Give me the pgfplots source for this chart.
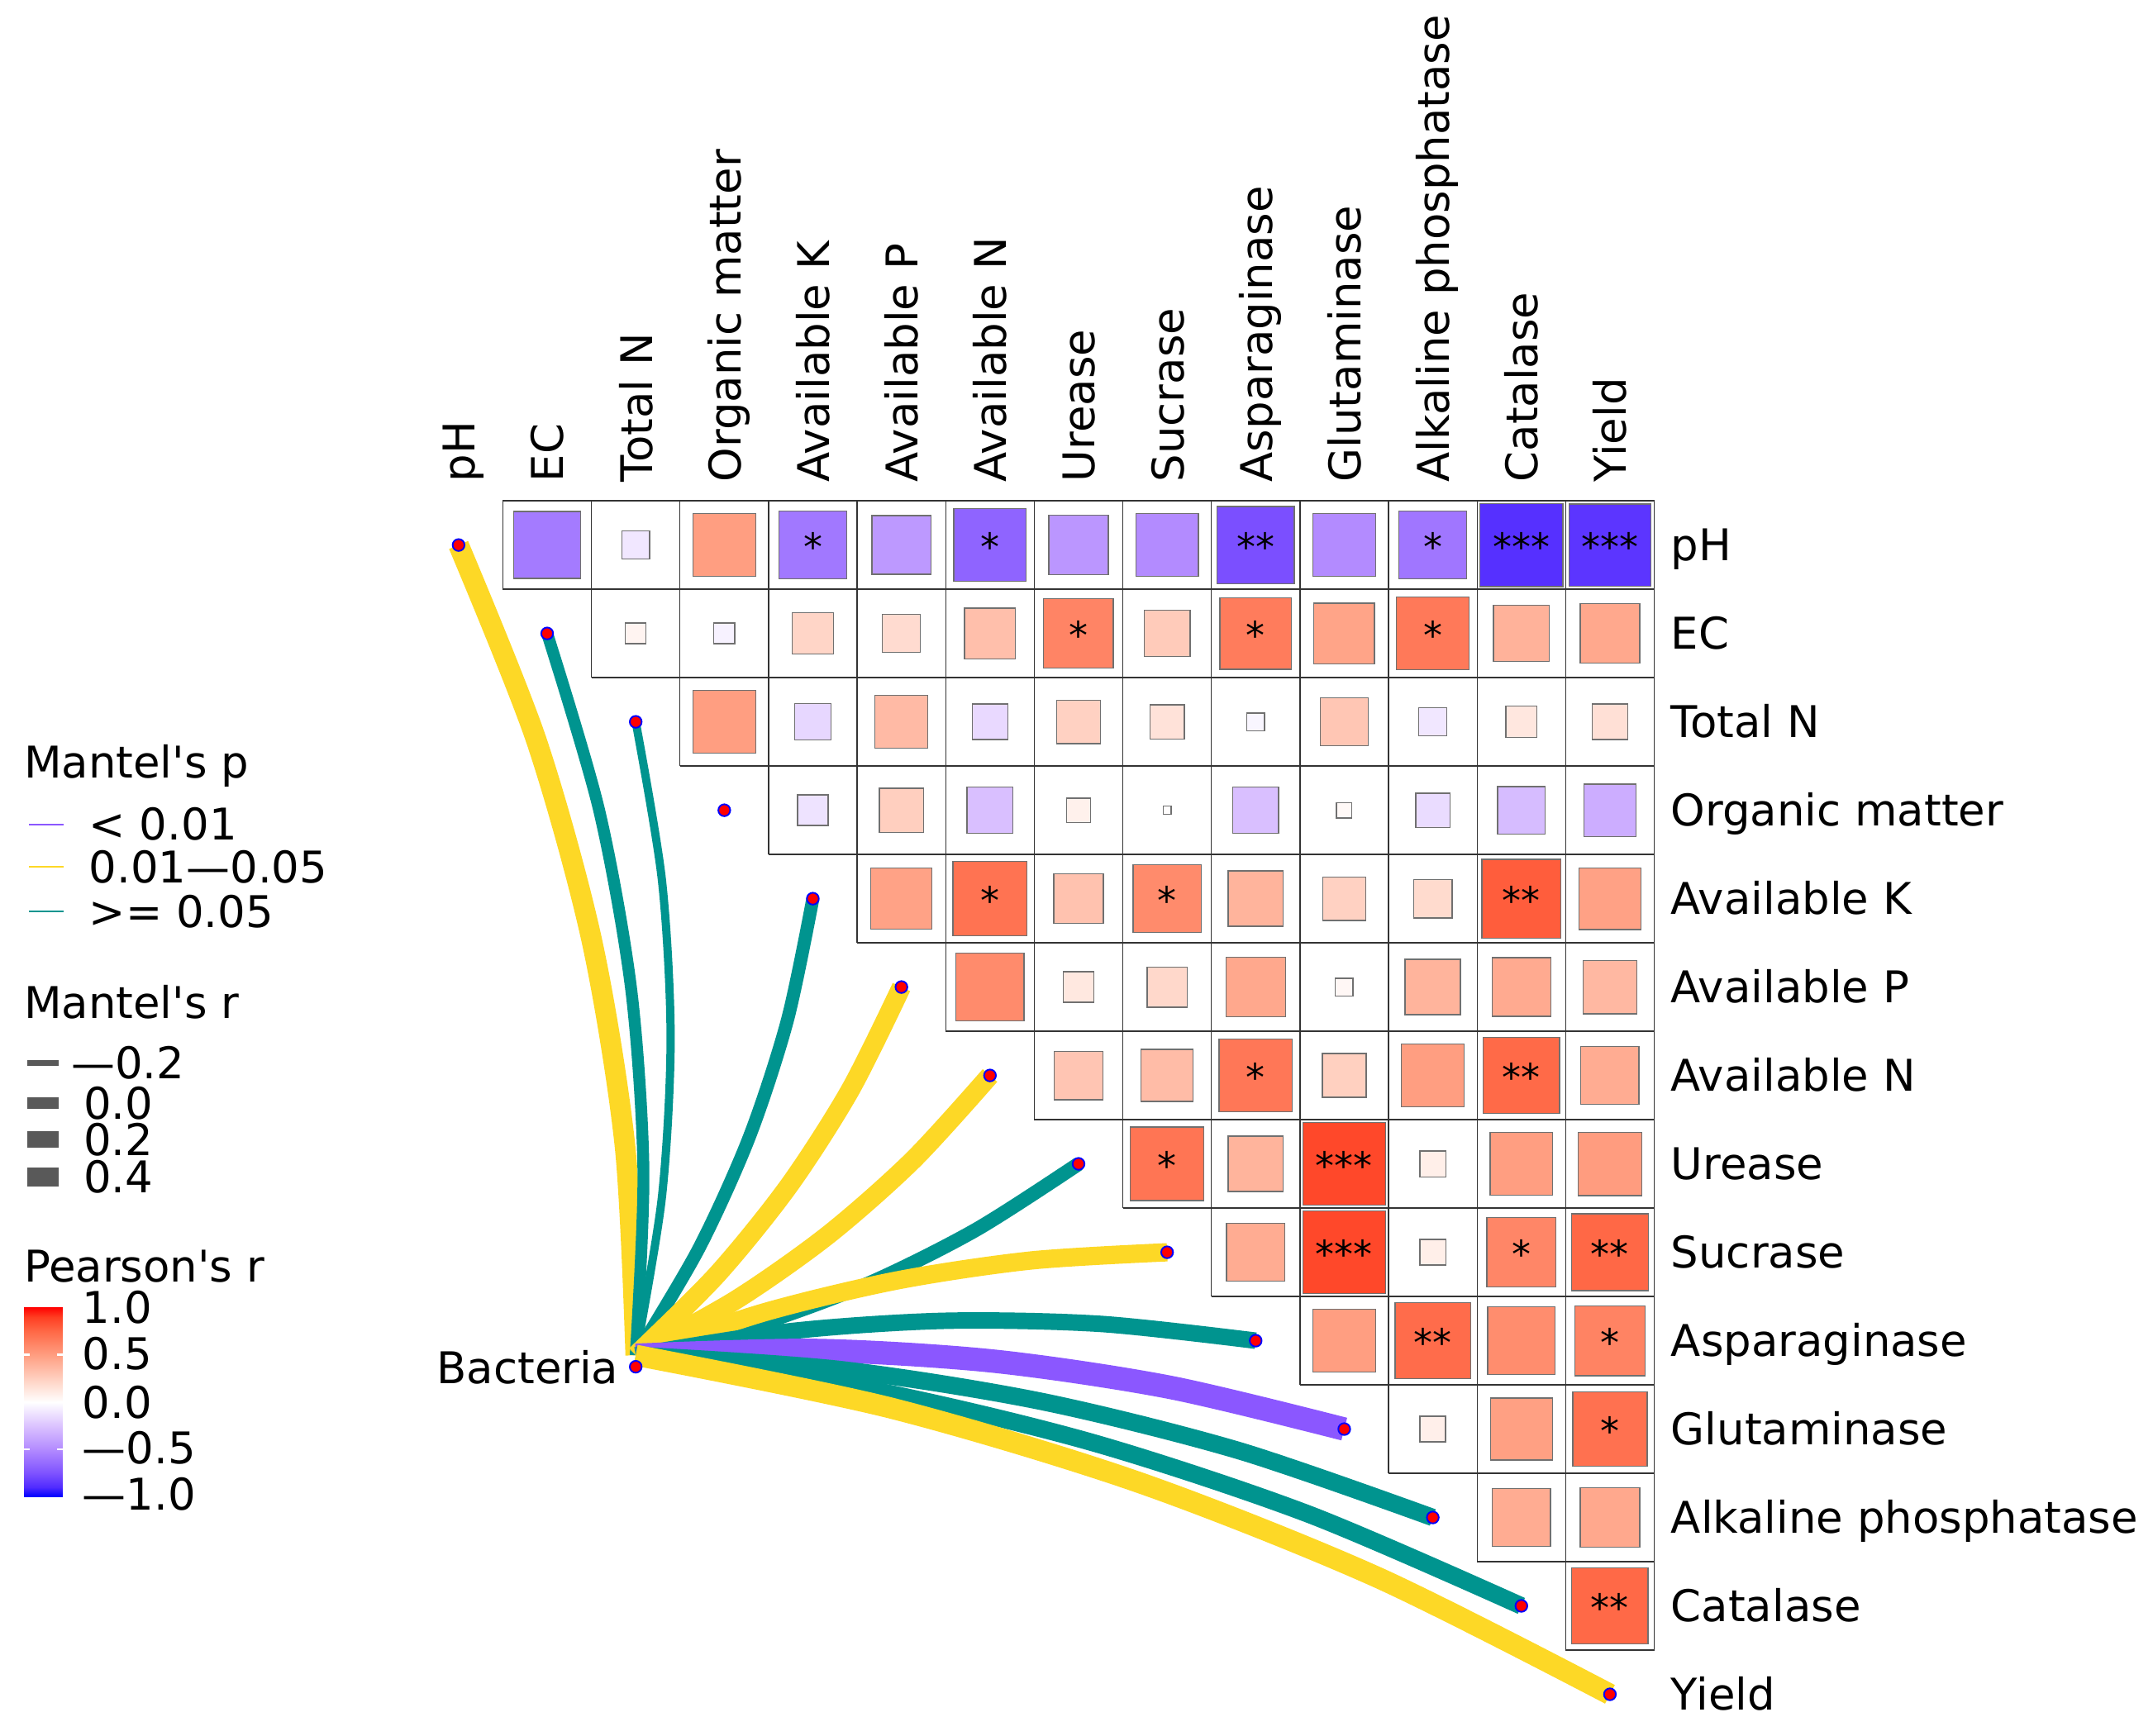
\documentclass[border=0pt]{standalone}
\usepackage{fontspec}
\setmainfont{DejaVu Sans}[Ligatures=TeXOff]
\usepackage{pgfplots}
\pgfplotsset{compat=1.18}
\usepackage{pgfplotstable}

\definecolor{pyel}{HTML}{FDD826}
\definecolor{pteal}{HTML}{00948F}
\definecolor{ppur}{HTML}{8B57FF}
\definecolor{sqedge}{HTML}{707070}
\definecolor{gridc}{HTML}{333333}
\definecolor{keygray}{HTML}{595959}

% Pearson's r, one row per drawn cell (col x, row y)
\pgfplotstableread{
x y r
1 0 -0.57
2 0 -0.10
3 0 0.50
4 0 -0.585
5 0 -0.44
6 0 -0.67
7 0 -0.45
8 0 -0.50
9 0 -0.76
10 0 -0.50
11 0 -0.59
12 0 -0.88
13 0 -0.86
2 1 0.055
3 1 -0.055
4 1 0.22
5 1 0.185
6 1 0.33
7 1 0.62
8 1 0.27
9 1 0.656
10 1 0.47
11 1 0.67
12 1 0.40
13 1 0.45
3 2 0.50
4 2 -0.17
5 2 0.355
6 2 -0.16
7 2 0.24
8 2 0.15
9 2 -0.04
10 2 0.295
11 2 -0.10
12 2 0.125
13 2 0.16
4 3 -0.12
5 3 0.25
6 3 -0.27
7 3 0.075
8 3 0.008
9 3 -0.27
10 3 0.03
11 3 -0.15
12 3 -0.285
13 3 -0.35
5 4 0.48
6 4 0.70
7 4 0.315
8 4 0.59
9 4 0.39
10 4 0.24
11 4 0.19
12 4 0.79
13 4 0.485
6 5 0.59
7 5 0.12
8 5 0.205
9 5 0.45
10 5 0.04
11 5 0.39
12 5 0.44
13 5 0.365
7 6 0.30
8 6 0.345
9 6 0.68
10 6 0.245
11 6 0.50
12 6 0.74
13 6 0.43
8 7 0.69
9 7 0.39
10 7 0.865
11 7 0.085
12 7 0.50
13 7 0.51
9 8 0.43
10 8 0.865
11 8 0.085
12 8 0.61
13 8 0.75
10 9 0.50
11 9 0.73
12 9 0.58
13 9 0.625
11 10 0.083
12 10 0.49
13 10 0.707
12 11 0.43
13 11 0.45
13 12 0.745
}\cells

% significance marks
\pgfplotstableread{
x y s
4 0 *
6 0 *
9 0 **
11 0 *
12 0 ***
13 0 ***
7 1 *
9 1 *
11 1 *
6 4 *
8 4 *
12 4 **
9 6 *
12 6 **
8 7 *
10 7 ***
10 8 ***
12 8 *
13 8 **
11 9 **
13 9 *
13 10 *
13 12 **
}\stars

\begin{document}
\begin{tikzpicture}[
  lab/.style={font=\fontsize{9.55}{11}\selectfont, inner sep=0pt, outer sep=0pt},
]
\begin{axis}[
  x=19.35pt, y=19.32pt, y dir=reverse,
  xmin=-5.178, xmax=19.132, ymin=-6.165, ymax=13.463,
  hide axis, clip=false,
  colormap={pearson}{
    rgb255(0pt)=(0,0,255);
    rgb255(10pt)=(80,43,255);
    rgb255(25pt)=(126,82,255);
    rgb255(50pt)=(179,139,255);
    rgb255(75pt)=(220,196,255);
    rgb255(100pt)=(255,255,255);
    rgb255(125pt)=(255,207,191);
    rgb255(150pt)=(255,158,129);
    rgb255(175pt)=(255,104,70);
    rgb255(190pt)=(255,62,34);
    rgb255(200pt)=(255,0,0)
  },
  point meta min=-1, point meta max=1,
]

% grid of the upper triangle
\pgfplotsinvokeforeach{0,...,13}{
  \draw[gridc, line width=0.25pt] (axis cs:{max(#1-0.5,0.5)},{#1-0.5}) -- (axis cs:13.5,{#1-0.5});
}
\pgfplotsinvokeforeach{1,...,13}{
  \draw[gridc, line width=0.25pt] (axis cs:{#1-0.5},-0.5) -- (axis cs:{#1-0.5},{#1-0.5});
}
\draw[gridc, line width=0.25pt] (axis cs:13.5,-0.5) -- (axis cs:13.5,12.5);

% squares: side ~ sqrt(|r|)
\addplot[scatter, only marks, mark=square*, point meta=explicit,
  scatter/use mapped color={draw=sqedge, fill=mapped color},
  visualization depends on={\thisrow{r} \as \rval},
  scatter/@pre marker code/.append style={/tikz/mark size={sqrt(abs(\rval))*9.675pt}},
  mark options={line width=0.25pt}]
  table[x=x, y=y, meta=r] {\cells};

% stars
\addplot[scatter, only marks, mark=*, mark size=0pt,
  mark options={draw=none, fill=none},
  point meta=explicit symbolic,
  scatter/@pre marker code/.code={\node[inner sep=0pt, anchor=base, text=black, opacity=1, text opacity=1, font=\fontsize{8.3}{10}\selectfont] at (0pt,-3.4pt) {\pgfplotspointmeta};},
  scatter/@post marker code/.code={}]
  table[x=x, y=y, meta=s] {\stars};

% Mantel links from Bacteria
\addplot[pyel, line width=4.5pt, smooth] coordinates {(2.0,9.165) (1.878,6.791) (1.504,4.473) (0.878,2.209) (0,0)};
\addplot[pteal, line width=2.6pt, smooth] coordinates {(2.0,9.165) (2.087,7.083) (1.949,5.028) (1.587,3.000) (1,1)};
\addplot[pteal, line width=1.8pt, smooth] coordinates {(2.0,9.165) (2.296,7.374) (2.394,5.583) (2.296,3.791) (2,2)};
\addplot[pteal, line width=2.85pt, smooth] coordinates {(2.0,9.165) (2.713,7.957) (3.284,6.693) (3.713,5.374) (4,4)};
\addplot[pyel, line width=4.2pt, smooth] coordinates {(2.0,9.165) (2.922,8.248) (3.729,7.248) (4.422,6.165) (5,5)};
\addplot[pyel, line width=4.2pt, smooth] coordinates {(2.0,9.165) (3.131,8.539) (4.174,7.803) (5.131,6.956) (6,6)};
\addplot[pteal, line width=3.1pt, smooth] coordinates {(2.0,9.165) (3.339,8.830) (4.619,8.358) (5.839,7.747) (7,7)};
\addplot[pyel, line width=4.0pt, smooth] coordinates {(2.0,9.165) (3.462,8.676) (4.949,8.319) (6.462,8.093) (8,8)};
\addplot[pteal, line width=3.6pt, smooth] coordinates {(2.0,9.165) (3.745,8.893) (5.493,8.775) (7.245,8.810) (9,9)};
\addplot[ppur, line width=5.1pt, smooth] coordinates {(2.0,9.165) (4.028,9.110) (6.037,9.231) (8.028,9.527) (10,10)};
\addplot[pteal, line width=3.8pt, smooth] coordinates {(2.0,9.165) (4.311,9.327) (6.581,9.687) (8.811,10.244) (11,11)};
\addplot[pteal, line width=3.8pt, smooth] coordinates {(2.0,9.165) (4.594,9.544) (7.125,10.143) (9.594,10.961) (12,12)};
\addplot[pyel, line width=4.6pt, smooth] coordinates {(2.0,9.165) (4.877,9.761) (7.669,10.599) (10.377,11.678) (13,13)};

% nodes
\addplot[only marks, mark=*, mark size=1.3pt, mark options={fill=red, draw=blue, line width=0.35pt}] table {
x y
0 0
1 1
2 2
3 3
4 4
5 5
6 6
7 7
8 8
9 9
10 10
11 11
12 12
13 13
2.0 9.295
};

% colour bar for Pearson's r
\addplot[surf, shader=interp, mesh/cols=2, point meta=explicit] table[x=x, y=y, meta=c] {
x y c
-4.904 8.624 1
-4.470 8.624 1
-4.904 8.731 0.9
-4.470 8.731 0.9
-4.904 8.8915 0.75
-4.470 8.8915 0.75
-4.904 9.159 0.5
-4.470 9.159 0.5
-4.904 9.4265 0.25
-4.470 9.4265 0.25
-4.904 9.694 0
-4.470 9.694 0
-4.904 9.9615 -0.25
-4.470 9.9615 -0.25
-4.904 10.229 -0.5
-4.470 10.229 -0.5
-4.904 10.4965 -0.75
-4.470 10.4965 -0.75
-4.904 10.657 -0.9
-4.470 10.657 -0.9
-4.904 10.764 -1
-4.470 10.764 -1
};
\pgfplotsinvokeforeach{9.159,9.694,10.229}{
  \draw[white, line width=0.4pt] (axis cs:-4.904,#1) -- (axis cs:-4.84,#1);
  \draw[white, line width=0.4pt] (axis cs:-4.534,#1) -- (axis cs:-4.470,#1);
}

% row labels
\node[lab, anchor=base west] at (axis cs:13.69,0.18) {pH};
\node[lab, anchor=base west] at (axis cs:13.69,1.18) {EC};
\node[lab, anchor=base west] at (axis cs:13.69,2.18) {Total N};
\node[lab, anchor=base west] at (axis cs:13.69,3.18) {Organic matter};
\node[lab, anchor=base west] at (axis cs:13.69,4.18) {Available K};
\node[lab, anchor=base west] at (axis cs:13.69,5.18) {Available P};
\node[lab, anchor=base west] at (axis cs:13.69,6.18) {Available N};
\node[lab, anchor=base west] at (axis cs:13.69,7.18) {Urease};
\node[lab, anchor=base west] at (axis cs:13.69,8.18) {Sucrase};
\node[lab, anchor=base west] at (axis cs:13.69,9.18) {Asparaginase};
\node[lab, anchor=base west] at (axis cs:13.69,10.18) {Glutaminase};
\node[lab, anchor=base west] at (axis cs:13.69,11.18) {Alkaline phosphatase};
\node[lab, anchor=base west] at (axis cs:13.69,12.18) {Catalase};
\node[lab, anchor=base west] at (axis cs:13.69,13.18) {Yield};

% column labels
\node[lab, rotate=90, anchor=base west] at (axis cs:0.186,-0.714) {pH};
\node[lab, rotate=90, anchor=base west] at (axis cs:1.186,-0.714) {EC};
\node[lab, rotate=90, anchor=base west] at (axis cs:2.186,-0.714) {Total N};
\node[lab, rotate=90, anchor=base west] at (axis cs:3.186,-0.714) {Organic matter};
\node[lab, rotate=90, anchor=base west] at (axis cs:4.186,-0.714) {Available K};
\node[lab, rotate=90, anchor=base west] at (axis cs:5.186,-0.714) {Available P};
\node[lab, rotate=90, anchor=base west] at (axis cs:6.186,-0.714) {Available N};
\node[lab, rotate=90, anchor=base west] at (axis cs:7.186,-0.714) {Urease};
\node[lab, rotate=90, anchor=base west] at (axis cs:8.186,-0.714) {Sucrase};
\node[lab, rotate=90, anchor=base west] at (axis cs:9.186,-0.714) {Asparaginase};
\node[lab, rotate=90, anchor=base west] at (axis cs:10.186,-0.714) {Glutaminase};
\node[lab, rotate=90, anchor=base west] at (axis cs:11.186,-0.714) {Alkaline phosphatase};
\node[lab, rotate=90, anchor=base west] at (axis cs:12.186,-0.714) {Catalase};
\node[lab, rotate=90, anchor=base west] at (axis cs:13.186,-0.714) {Yield};

\node[lab, anchor=base east] at (axis cs:1.806,9.481) {Bacteria};

% legend: Mantel's p
\node[lab, anchor=base west] at (axis cs:-4.907,2.638) {Mantel's p};
\draw[ppur, line width=0.35pt] (axis cs:-4.853,3.160) -- (axis cs:-4.457,3.160);
\draw[pyel, line width=0.35pt] (axis cs:-4.853,3.640) -- (axis cs:-4.457,3.640);
\draw[pteal, line width=0.35pt] (axis cs:-4.853,4.143) -- (axis cs:-4.457,4.143);
\node[lab, anchor=base west] at (axis cs:-4.171,3.340) {< 0.01};
\node[lab, anchor=base west] at (axis cs:-4.171,3.820) {0.01—0.05};
\node[lab, anchor=base west] at (axis cs:-4.171,4.323) {>= 0.05};

% legend: Mantel's r
\node[lab, anchor=base west] at (axis cs:-4.907,5.357) {Mantel's r};
\draw[keygray, line width=1.35pt] (axis cs:-4.868,5.860) -- (axis cs:-4.516,5.860);
\draw[keygray, line width=2.6pt] (axis cs:-4.868,6.311) -- (axis cs:-4.516,6.311);
\draw[keygray, line width=3.55pt] (axis cs:-4.868,6.722) -- (axis cs:-4.516,6.722);
\draw[keygray, line width=4.25pt] (axis cs:-4.868,7.149) -- (axis cs:-4.516,7.149);
\node[lab, anchor=base west] at (axis cs:-4.372,6.040) {—0.2};
\node[lab, anchor=base west] at (axis cs:-4.233,6.491) {0.0};
\node[lab, anchor=base west] at (axis cs:-4.233,6.902) {0.2};
\node[lab, anchor=base west] at (axis cs:-4.233,7.329) {0.4};

% legend: Pearson's r
\node[lab, anchor=base west] at (axis cs:-4.907,8.335) {Pearson's r};
\node[lab, anchor=base west] at (axis cs:-4.245,8.804) {1.0};
\node[lab, anchor=base west] at (axis cs:-4.245,9.324) {0.5};
\node[lab, anchor=base west] at (axis cs:-4.245,9.874) {0.0};
\node[lab, anchor=base west] at (axis cs:-4.245,10.394) {—0.5};
\node[lab, anchor=base west] at (axis cs:-4.245,10.915) {—1.0};
\end{axis}
\pgfresetboundingbox
\useasboundingbox (current axis.south west) rectangle (current axis.north east);
\end{tikzpicture}
\end{document}
